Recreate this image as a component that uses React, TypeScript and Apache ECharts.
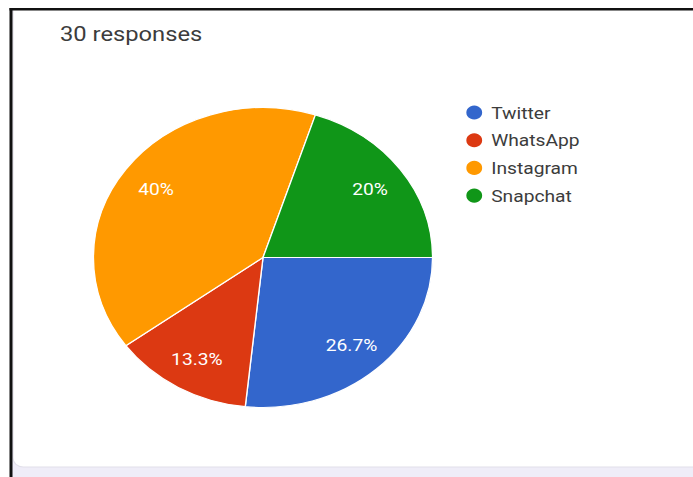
import React, { useEffect, useRef } from "react";
import * as echarts from "echarts";

const categories = ["Twitter", "WhatsApp", "Instagram", "Snapchat"];
const responses = [8, 4, 12, 6];
const colors = ["#3366cc", "#dc3912", "#ff9900", "#109618"];
const titleText = "30 responses";

const W = 693;
const H = 477;
const SX = 1.1305; // horizontal stretch of the screenshot
const IW = W / SX;

export default function App() {
  const ref = useRef<HTMLDivElement>(null);
  useEffect(() => {
    if (!ref.current) return;
    const chart = echarts.init(ref.current, null, { renderer: "svg" });
    const data = categories.map((name, i) => ({
      name,
      value: responses[i],
      itemStyle: { color: colors[i] },
    }));
    const total = responses.reduce((a, b) => a + b, 0);
    const fx = (x: number) => x / SX;
    chart.setOption({
      animation: false,
      backgroundColor: "#ffffff",
      title: {
        text: titleText,
        left: fx(60),
        top: 22.5,
        padding: 0,
        textStyle: {
          fontFamily: "Roboto",
          fontSize: 21,
          fontWeight: "normal",
          color: "#3c3c3c",
        },
      },
      legend: {
        orient: "vertical",
        left: 405.5,
        top: 98.5,
        itemWidth: 20,
        itemHeight: 16,
        itemGap: 9.7,
        icon: "circle",
        data: categories,
        textStyle: {
          fontFamily: "Roboto",
          fontSize: 17,
          lineHeight: 17,
          color: "#3c3c3c",
        },
      },
      graphic: [
        { type: "rect", z: -10, shape: { x: 0, y: 440, width: IW + 10, height: 40 }, style: { fill: "#efedf8" } },
        { type: "rect", z: -9, shape: { x: fx(13), y: 0, width: IW, height: 467, r: [0, 0, 0, 9] }, style: { fill: "#ffffff", stroke: "#e2e0ea", lineWidth: 1 } },
        { type: "rect", z: -8, shape: { x: 0, y: 0, width: IW + 10, height: 8 }, style: { fill: "#ffffff" } },
        { type: "rect", z: 20, shape: { x: 0, y: 0, width: fx(10), height: H }, style: { fill: "#ffffff" } },
        { type: "rect", z: 20, shape: { x: fx(9.5), y: 8, width: IW, height: 2.6 }, style: { fill: "#111111" } },
        { type: "rect", z: 20, shape: { x: fx(9.5), y: 8, width: fx(3), height: H }, style: { fill: "#111111" } },
      ],
      series: [
        {
          type: "pie",
          center: [fx(263), 257.5],
          radius: [0, 150],
          startAngle: 0,
          clockwise: true,
          label: { show: false },
          labelLine: { show: false },
          itemStyle: { borderColor: "#ffffff", borderWidth: 1.2 },
          emphasis: { disabled: true },
          data,
        },
        {
          type: "pie",
          center: [fx(263), 257.5],
          radius: [78, 150],
          startAngle: 0,
          clockwise: true,
          silent: true,
          z: 5,
          itemStyle: { color: "transparent", borderWidth: 0 },
          label: {
            show: true,
            position: "inside",
            fontFamily: "Roboto",
            fontSize: 17,
            color: "#ffffff",
            formatter: (p: any) => {
              const v = (p.value / total) * 100;
              return (Math.round(v * 10) / 10).toString() + "%";
            },
          },
          labelLine: { show: false },
          emphasis: { disabled: true },
          data: categories.map((name, i) => ({ name, value: responses[i], itemStyle: { color: "transparent" } })),
        },
      ],
    });
    return () => chart.dispose();
  }, []);
  return (
    <div style={{ position: "fixed", left: 0, top: 0, width: W, height: H, overflow: "hidden", background: "#fff" }}>
      <div
        ref={ref}
        style={{
          width: IW,
          height: H,
          transform: `scaleX(${SX})`,
          transformOrigin: "0 0",
        }}
      />
    </div>
  );
}
